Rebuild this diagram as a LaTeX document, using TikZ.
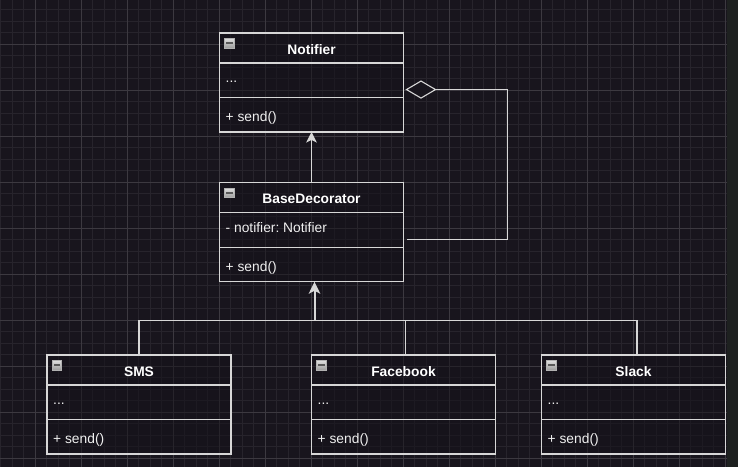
\documentclass[tikz,border=0pt]{standalone}
\usepackage{fontspec}
\setmainfont{Liberation Sans}
\frenchspacing
\usetikzlibrary{arrows.meta,calc,shapes.geometric}
\definecolor{bg}{RGB}{24,21,29}
\definecolor{minorg}{RGB}{39,36,44}
\definecolor{majorg}{RGB}{60,57,64}
\definecolor{strip}{RGB}{30,33,32}
\definecolor{boxfill}{RGB}{22,19,27}
\definecolor{edgec}{RGB}{215,215,215}
\definecolor{txt}{RGB}{240,240,240}
\tikzset{
  minorgrid/.style={draw=minorg,line width=0.8pt},
  majorgrid/.style={draw=majorg,line width=0.9pt},
  sect/.style={draw=edgec,line width=1.1pt,fill=boxfill,fill opacity=0.55,text opacity=1,
    minimum width=184pt,inner sep=0pt,outer sep=0pt,anchor=north west,rectangle},
  titletxt/.style={font=\fontsize{13.8}{15}\selectfont\bfseries,text=white,inner sep=0pt,anchor=base},
  membtxt/.style={font=\fontsize{13.8}{15}\selectfont,text=txt,inner sep=0pt,anchor=base west},
  edge/.style={draw=edgec,line width=1.1pt},
  inherit/.style={draw=edgec,line width=1.2pt,-{Stealth[length=10.5pt,width=10.5pt,inset=2.5pt]}},
}
\newcommand{\umlclass}[6]{%
  \node[sect,minimum height=30pt] (#1) at (#2,#3) {};
  \node[sect,minimum height=34.5pt] (#1-a) at (#1.south west) {};
  \node[sect,minimum height=34.5pt] (#1-m) at (#1-a.south west) {};
  \node[titletxt] (#1-t) at ($(#1.north west)+(92,21)$) {#4};
  \node[membtxt] (#1-at) at ($(#1-a.north west)+(6,19.5)$) {#5};
  \node[membtxt] (#1-mt) at ($(#1-m.north west)+(6,24)$) {#6};
  \shade[top color=white!88!black,bottom color=white!62!black,draw=white!70!black,line width=0.4pt]
    ($(#1.north west)+(5,5.3)$) rectangle ($(#1.north west)+(14.5,14.7)$);
  \fill[black!65] ($(#1.north west)+(6.5,9.2)$) rectangle ($(#1.north west)+(13,10.8)$);
}
\begin{document}
\begin{tikzpicture}[x=1pt,y=-1pt]
\useasboundingbox (0,0) rectangle (738,467);
\fill[bg] (0,0) rectangle (738,467);
\foreach \xx in {0.5,12,...,738} {\draw[minorgrid] (\xx,0) -- (\xx,467);}
\foreach \yy in {-2,9.5,...,467} {\draw[minorgrid] (0,\yy) -- (738,\yy);}
\foreach \xx in {35,81,...,738} {\draw[majorgrid] (\xx,0) -- (\xx,467);}
\foreach \yy in {44,90,...,467} {\draw[majorgrid] (0,\yy) -- (738,\yy);}
\fill[strip] (727,0) rectangle (738,467);

\umlclass{notifier}{219.5}{33}{Notifier}{...}{+ send()}
\umlclass{base}{219.5}{182.7}{BaseDecorator}{- notifier: Notifier}{+ send()}
\umlclass{sms}{47}{355}{SMS}{...}{+ send()}
\umlclass{fb}{311.5}{355}{Facebook}{...}{+ send()}
\umlclass{slack}{541.5}{355}{Slack}{...}{+ send()}

% inheritance BaseDecorator -> Notifier
\draw[inherit] (base.north) -- (notifier-m.south);

% children -> BaseDecorator
\coordinate (trunk) at (314.5,320.7);
\draw[edge] (sms.north) |- (trunk);
\draw[edge] ($(fb.north)+(2.2,0)$) |- (trunk);
\draw[edge] ($(slack.north)+(3.5,0)$) |- (trunk);
\draw[inherit,line width=2pt,-{Stealth[length=12pt,width=11.5pt,inset=3pt]}] (trunk) -- (trunk |- base-m.south);

% aggregation
\node[diamond,draw=edgec,line width=1.1pt,fill=bg,minimum width=29pt,minimum height=17pt,inner sep=0pt,outer sep=0pt,anchor=west]
  (dia) at ($(notifier-a.east)+(3,9.3)$) {};
\coordinate (corner) at (507.3,89.5);
\coordinate (aggend) at ($(base-a.south east)+(3.2,-7.3)$);
\draw[edge] (dia.east) -- (dia.east -| corner) |- (aggend);
\end{tikzpicture}
\end{document}
